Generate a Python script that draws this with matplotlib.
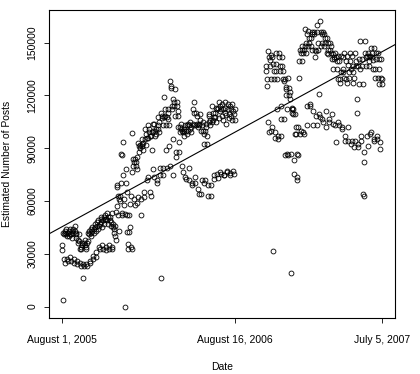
import numpy as np
import pandas as pd
import matplotlib
matplotlib.use('Agg')
import matplotlib.pyplot as plt
import matplotlib.dates as mdates

# daily estimates (thousands of posts), one row per week Mon..Sun
start_1 = '2005-08-01'
posts_1 = [
    35, 32, 3.8, 42, 41, 27, 25,
    43, 42, 41, 44, 40, 27, 26,
    42, 43, 40, 41, 44, 28, 26,
    41, 39, 43, 42, 44, 27, 25,
    43, 46, 42, 39, 41, 26, 24,
    38, 36, 41, 37, 33, 25, 23,
    34, 33, 36, 35, 16.4, 24, 23,
    36, 38, 35, 33, 34, 24, 23,
    36, 37, 42, 41, 43, 26, 25,
    42, 44, 40, 43, 45, 29, 27,
    44, 42, 47, 45, 43, 31, 28,
    46, 48, 44, 49, 46, 34, 33,
    47, 50, 48, 51, 45, 35, 33,
    49, 51, 47, 52, 50, 34, 32,
    50, 53, 49, 51, 47, 35, 33,
    51, 49, 46, 48, 53, 33, 34,
    47, 45, 44, 42, 46, 40, 38,
    54, 57, 69, 68, 63, 52, 43,
    61, 60, 63, 70, 86.8, 52, 53,
    86, 93.4, 75, 61, 57.5, 0, 52.8,
    70, 78, 65, 52, 42.5, 35.8, 33,
    42.5, 52, 45, 58, 63, 34, 33,
    76.4, 98.6, 80, 84, 82, 61, 57.5,
    84, 80, 82, 85, 78, 59, 62,
    93, 91.5, 88, 90, 92, 61, 52,
    92.5, 91.5, 95, 89, 93, 62, 65,
    95, 101, 98, 92, 96, 71.7, 73.6,
    103, 96, 99, 101, 97, 65, 63,
    97, 88.7, 99, 104, 100, 78.3, 73.6,
    104, 100, 97, 98, 101, 70, 71.7,
    101, 107.5, 103, 99, 105, 74.5, 79,
    110, 16, 108.5, 107, 103, 74.5, 79,
    119, 107.5, 112, 108.5, 103, 88.7, 79,
    107.5, 106.6, 112, 110, 103, 91.5, 80,
    128, 124, 125.5, 112, 114, 95, 74.5,
    118, 116, 114, 123.6, 108.5, 87.7, 85,
    114, 116, 111, 108.5, 102, 93.4, 87.7,
    102, 99, 104, 101, 100, 80, 76.4,
    99, 101, 97, 100, 103, 73.6, 72.6,
    100, 98, 103, 100, 104, 71.7, 79,
    103, 101, 105, 99, 102, 70, 68.9,
    112, 104, 116, 110, 103, 70, 73.6,
    110, 103, 104, 108, 102, 67, 64,
    103, 104, 109.5, 106, 100, 64, 71.7,
    103, 100, 104.7, 92.5, 98, 70, 71.7,
    100, 104, 102, 92.5, 97, 68.9, 63,
    108.5, 109.5, 104.7, 103, 106, 63, 68.9,
    104.7, 114, 110, 106, 107.5, 72.6, 74.5,
    107.5, 110, 113, 105, 112, 75.5, 73,
    113, 116, 107, 111, 114, 76.4, 75.5,
    112, 115, 108, 106, 112, 75, 74.5,
    110, 113, 116, 104, 109, 76.4, 77,
    112, 115, 107, 109.5, 114, 74.5, 76,
    108, 112, 106, 115, 111, 77, 75.5,
    109.5, 106, 112,
]

start_2 = '2006-10-23'
posts_2 = [
    136.8, 134, 125.5, 129, 145, 104.7, 99,
    141.5, 140, 136.8, 129, 143, 100, 102,
    141.5, 31.7, 137.8, 134, 129, 96, 99,
    137.8, 144, 134, 129, 112, 95, 97,
    144, 141.5, 136.8, 134, 114, 106.6, 97,
    141.5, 136.8, 134, 129, 128, 106.6, 86,
    129, 120, 124.5, 123.6, 112, 86.8, 86,
    130, 124, 120, 122, 118, 86.8, 18.9,
    112, 110, 113, 109.5, 112, 83, 75.5,
    109.5, 98, 102, 98, 86.8, 73.6, 71.7,
    86, 102, 130, 139.6, 146, 98, 100,
    144, 146, 139.6, 148, 144, 99, 98,
    146, 148, 157.6, 150, 144, 114, 103,
    154.7, 156.6, 148, 152.8, 150, 115, 114,
    148, 152.8, 155.7, 154.7, 146, 103, 111,
    155.7, 154.7, 146, 141.5, 145, 108.5, 103,
    160, 155.7, 150, 146, 120.8, 109.5, 107.5,
    162, 155.7, 148, 154.7, 150, 106.6, 104.7,
    155.7, 148, 154.7, 150, 152.8, 111, 102,
    152.8, 144, 146, 150, 143.4, 106.6, 104.7,
    150, 146, 144, 148, 140.6, 109.5, 103.8,
    143.4, 135, 140.6, 141.5, 144, 103, 93.4,
    141.5, 139.6, 135, 129, 142.5, 104.7, 103,
    139.6, 127, 129, 142.5, 133, 101, 102,
    141.5, 135, 133, 130, 144, 94.3, 97,
    139.6, 129, 127, 142.5, 137, 94.3, 102,
    133, 130, 144, 139.6, 135, 92.5, 94.3,
    142.5, 136.8, 133, 127, 130, 90.6, 94.3,
    144, 139.6, 136.8, 118, 110, 92.5, 90.6,
    136.8, 140.6, 126.4, 151, 135, 97, 94.3,
    140.6, 136.8, 126.4, 64, 62.8, 82, 87.7,
    151, 144, 136.8, 141.5, 142.5, 97, 91.5,
    144, 136.8, 141.5, 139.6, 142.5, 98, 99,
    147, 141.5, 144, 135, 140, 95, 94.3,
    147, 135, 130, 144, 140.6, 97, 95,
    144, 130, 126.4, 140.6, 135, 93.4, 89.6,
    140.6, 130, 126.4, 129,
]

tick_dates = ['2005-08-01', '2006-08-16', '2007-07-05']
tick_labels = ['August 1, 2005', 'August 16, 2006', 'July 5, 2007']
y_ticks = [0, 30000, 60000, 90000, 120000, 150000]

plt.rcParams['font.family'] = ['Liberation Sans', 'DejaVu Sans']

dates = pd.date_range(start_1, periods=len(posts_1)).append(
    pd.date_range(start_2, periods=len(posts_2)))
values = np.array(posts_1 + posts_2) * 1000
xnum = mdates.date2num(dates)

fig = plt.figure(figsize=(4.2, 3.74), dpi=100)
ax = fig.add_axes([0.1167, 0.1497, 0.8238, 0.8236])
ax.plot(dates, values, 'o', mfc='none', mec='black', ms=3.5, mew=0.6)
ax.margins(0.04)

# least squares trend line
slope, icpt = np.polyfit(xnum, values, 1)
ax.axline((xnum[0], icpt + slope * xnum[0]), slope=slope, color='black', lw=0.8)

ax.set_xticks(mdates.date2num(pd.to_datetime(tick_dates)))
ax.set_xticklabels(tick_labels)
ax.set_yticks(y_ticks)
ax.set_yticklabels([str(v) for v in y_ticks], rotation=90, va='center')
ax.tick_params(labelsize=7.5, length=3.5, width=0.6, pad=5)
ax.tick_params(axis='x', pad=9)
for s in ax.spines.values():
    s.set_linewidth(0.8)
ax.set_xlabel('Date', fontsize=7.5, labelpad=12)
ax.set_ylabel('Estimated Number of Posts', fontsize=7.5, labelpad=11)

fig.savefig('out.png', dpi=100)
